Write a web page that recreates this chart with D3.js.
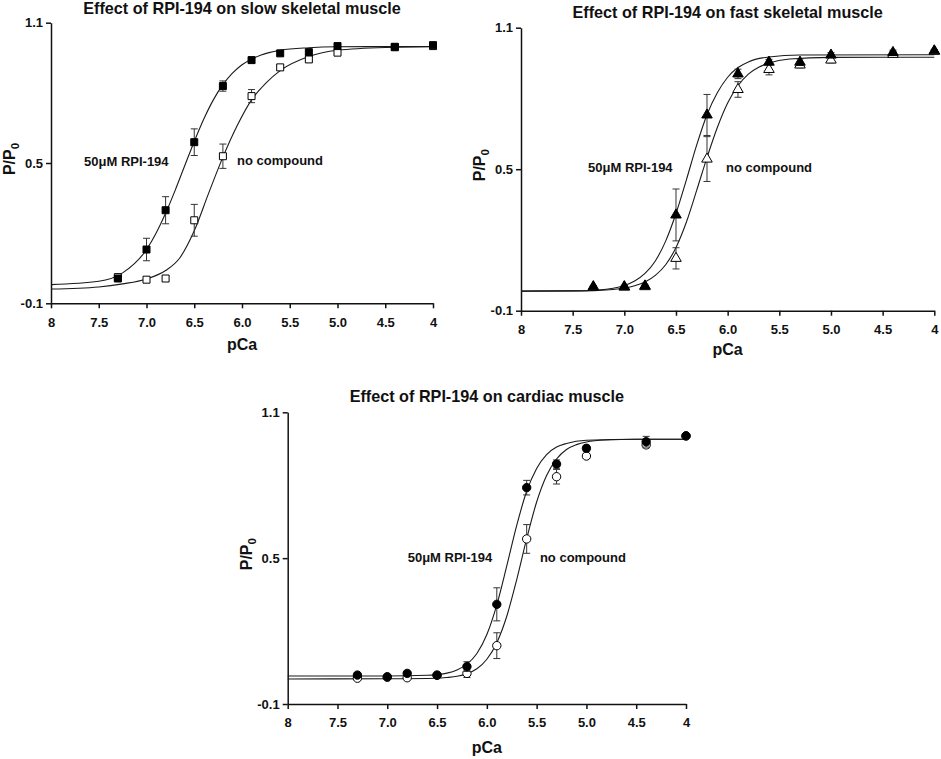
<!DOCTYPE html>
<html>
<head>
<meta charset="utf-8">
<script src="https://cdn.jsdelivr.net/npm/d3@7"></script>
<style>
  body { margin: 0; background: #fff; }
  svg { display: block; font-family: "Liberation Sans", Arial, sans-serif; }
  .axis path, .axis line { stroke: #111; stroke-width: 1.5; }
  .axis text { font-size: 13px; font-weight: bold; fill: #111; }
  .title { font-size: 16.2px; font-weight: bold; fill: #111; }
  .axis-label { font-size: 16px; font-weight: bold; fill: #111; }
  .note { font-size: 13px; font-weight: bold; fill: #111; }
</style>
</head>
<body>
<div id="chart"></div>
<script>
// ---- shared axis values ----
const xTickValues = [8, 7.5, 7.0, 6.5, 6.0, 5.5, 5.0, 4.5, 4];
const xTickLabels = ['8', '7.5', '7.0', '6.5', '6.0', '5.5', '5.0', '4.5', '4'];
const yTickValues = [-0.1, 0.5, 1.1];
const yTickLabels = ['-0.1', '0.5', '1.1'];

// pCa where the measurements were taken (same for every panel)
const pCaPoints = [7.3, 7.0, 6.8, 6.5, 6.2, 5.9, 5.6, 5.3, 5.0, 4.4, 4.0];

// ---- slow skeletal muscle ----
const slowRpiMean = [0.006, 0.130, 0.298, 0.589, 0.829, 0.940, 0.969, 0.974, 1.000, 0.997, 1.004];
const slowRpiErr  = [0.010, 0.048, 0.058, 0.057, 0.022, 0.012, 0.008, 0.010, 0.010, 0.008, 0.006];
const slowNoneMean = [0.012, 0.001, 0.006, 0.255, 0.529, 0.786, 0.909, 0.943, 0.972, 0.995, 1.000];
const slowNoneErr  = [0.008, 0.006, 0.010, 0.068, 0.052, 0.028, 0.010, 0.012, 0.010, 0.008, 0.006];
const slowRpiFitX = [8, 7.5, 7.25, 7.0, 6.9, 6.8, 6.7, 6.6, 6.5, 6.4, 6.3, 6.2, 6.1, 6.0, 5.8, 5.6, 5.3, 5.0, 4.5, 4.0];
const slowRpiFitY = [-0.02, -0.006, 0.03, 0.13, 0.2, 0.285, 0.383, 0.488, 0.592, 0.688, 0.77, 0.835, 0.884, 0.92, 0.962, 0.982, 0.993, 0.997, 0.998, 0.998];
const slowNoneFitX = [8, 7.5, 7.25, 7.0, 6.8, 6.65, 6.5, 6.35, 6.2, 6.05, 5.9, 5.75, 5.6, 5.3, 5.0, 4.5, 4.0];
const slowNoneFitY = [-0.039, -0.03, -0.017, 0.004, 0.04, 0.095, 0.21, 0.37, 0.525, 0.66, 0.77, 0.842, 0.895, 0.955, 0.982, 0.994, 0.997];

// ---- fast skeletal muscle ----
const fastRpiMean = [0.002, 0.002, 0.005, 0.306, 0.730, 0.904, 0.954, 0.954, 0.984, 0.995, 1.002];
const fastRpiErr  = [0.005, 0.004, 0.004, 0.110, 0.087, 0.020, 0.012, 0.014, 0.010, 0.010, 0.006];
const fastNoneMean = [-0.001, 0.000, 0.002, 0.122, 0.543, 0.838, 0.923, 0.942, 0.963, 0.987, 1.000];
const fastNoneErr  = [0.004, 0.004, 0.004, 0.045, 0.095, 0.033, 0.023, 0.012, 0.012, 0.010, 0.006];
const fastRpiFitX = [8, 7.5, 7.25, 7.0, 6.9, 6.8, 6.7, 6.6, 6.5, 6.4, 6.3, 6.2, 6.1, 6.0, 5.9, 5.8, 5.6, 5.3, 4.0];
const fastRpiFitY = [-0.017, -0.016, -0.012, 0.007, 0.026, 0.058, 0.111, 0.195, 0.312, 0.454, 0.602, 0.731, 0.824, 0.89, 0.931, 0.955, 0.976, 0.984, 0.985];
const fastNoneFitX = [8, 7.5, 7.25, 7.0, 6.9, 6.8, 6.7, 6.6, 6.5, 6.4, 6.3, 6.2, 6.1, 6.0, 5.9, 5.8, 5.7, 5.6, 5.4, 5.0, 4.0];
const fastNoneFitY = [-0.017, -0.016, -0.014, -0.004, 0.006, 0.022, 0.05, 0.095, 0.168, 0.275, 0.41, 0.549, 0.677, 0.781, 0.854, 0.903, 0.932, 0.95, 0.967, 0.974, 0.975];

// ---- cardiac muscle ----
const cardRpiMean = [0.019, 0.012, 0.026, 0.019, 0.054, 0.310, 0.790, 0.887, 0.952, 0.979, 1.003];
const cardRpiErr  = [0.006, 0.005, 0.008, 0.006, 0.020, 0.068, 0.030, 0.017, 0.012, 0.022, 0.005];
const cardNoneMean = [0.006, 0.010, 0.008, 0.018, 0.026, 0.140, 0.579, 0.835, 0.920, 0.966, 1.003];
const cardNoneErr  = [0.005, 0.005, 0.005, 0.005, 0.017, 0.053, 0.059, 0.030, 0.010, 0.012, 0.005];
const cardRpiFitX = [8, 7.0, 6.6, 6.5, 6.4, 6.3, 6.2, 6.1, 6.0, 5.9, 5.8, 5.7, 5.6, 5.5, 5.4, 5.3, 5.2, 5.0, 4.5, 4.0];
const cardRpiFitY = [0.015, 0.015, 0.018, 0.021, 0.027, 0.040, 0.064, 0.108, 0.186, 0.308, 0.468, 0.635, 0.775, 0.869, 0.926, 0.957, 0.972, 0.985, 0.989, 0.989];
const cardNoneFitX = [8, 7.0, 6.5, 6.4, 6.3, 6.2, 6.1, 6.0, 5.9, 5.8, 5.7, 5.6, 5.5, 5.4, 5.3, 5.2, 5.1, 5.0, 4.8, 4.5, 4.0];
const cardNoneFitY = [0.003, 0.004, 0.006, 0.009, 0.014, 0.025, 0.045, 0.084, 0.152, 0.261, 0.412, 0.58, 0.731, 0.84, 0.908, 0.947, 0.967, 0.978, 0.986, 0.989, 0.989];

// panel layout (pixel boxes of the plot areas + where the two notes sit, in data units)
const panels = [
  {
    title: 'Effect of RPI-194 on slow skeletal muscle',
    left: 51, right: 433, top: 22.7, bottom: 303.3, titleY: 13.5,
    xLabelY: 350,
    symbol: d3.symbolSquare, symSize: 49,
    rpi: [slowRpiMean, slowRpiErr, slowRpiFitX, slowRpiFitY],
    none: [slowNoneMean, slowNoneErr, slowNoneFitX, slowNoneFitY],
    noteRpi: [7.654, 0.488], noteNone: [6.052, 0.49]
  },
  {
    title: 'Effect of RPI-194 on fast skeletal muscle',
    left: 521, right: 934.3, top: 27.7, bottom: 310.7, titleY: 17.5,
    xLabelY: 355,
    symbol: d3.symbolTriangle, symSize: 48,
    rpi: [fastRpiMean, fastRpiErr, fastRpiFitX, fastRpiFitY],
    none: [fastNoneMean, fastNoneErr, fastNoneFitX, fastNoneFitY],
    noteRpi: [7.351, 0.488], noteNone: [6.015, 0.488]
  },
  {
    title: 'Effect of RPI-194 on cardiac muscle',
    left: 287.7, right: 686, top: 412.3, bottom: 704, titleY: 402,
    xLabelY: 752.5,
    symbol: d3.symbolCircle, symSize: 55,
    rpi: [cardRpiMean, cardRpiErr, cardRpiFitX, cardRpiFitY],
    none: [cardNoneMean, cardNoneErr, cardNoneFitX, cardNoneFitY],
    noteRpi: [6.795, 0.486], noteNone: [5.467, 0.486]
  }
];

const svg = d3.select('#chart').append('svg')
  .attr('width', 941)
  .attr('height', 759)
  .style('background', 'white');

function drawPanel(p) {
  const x = d3.scaleLinear().domain([8, 4]).range([p.left, p.right]);
  const y = d3.scaleLinear().domain([-0.1, 1.1]).range([p.bottom, p.top]);
  const g = svg.append('g');

  // title
  g.append('text')
    .attr('class', 'title')
    .attr('x', (p.left + p.right) / 2)
    .attr('y', p.titleY)
    .attr('text-anchor', 'middle')
    .text(p.title);

  // axes
  g.append('g')
    .attr('class', 'axis')
    .attr('transform', `translate(0,${p.bottom})`)
    .call(d3.axisBottom(x)
      .tickValues(xTickValues)
      .tickFormat((d, i) => xTickLabels[i])
      .tickSize(5).tickSizeOuter(0).tickPadding(9));

  g.append('g')
    .attr('class', 'axis')
    .attr('transform', `translate(${p.left},0)`)
    .call(d3.axisLeft(y)
      .tickValues(yTickValues)
      .tickFormat((d, i) => yTickLabels[i])
      .tickSize(5).tickSizeOuter(0).tickPadding(3));

  // axis labels
  g.append('text')
    .attr('class', 'axis-label')
    .attr('x', (p.left + p.right) / 2)
    .attr('y', p.xLabelY)
    .attr('text-anchor', 'middle')
    .text('pCa');

  const yl = g.append('text')
    .attr('class', 'axis-label')
    .attr('transform', `translate(${p.left - 36},${(p.top + p.bottom) / 2 - 4}) rotate(-90)`)
    .attr('text-anchor', 'middle');
  yl.append('tspan').text('P/P');
  yl.append('tspan').attr('font-size', '11.5px').attr('dy', 4).text('0');

  // fitted curves
  const line = d3.line()
    .x(d => x(d[0]))
    .y(d => y(d[1]))
    .curve(d3.curveMonotoneX);

  [p.rpi, p.none].forEach(s => {
    g.append('path')
      .datum(d3.zip(s[2], s[3]))
      .attr('d', line)
      .attr('fill', 'none')
      .attr('stroke', '#1a1a1a')
      .attr('stroke-width', 1.1);
  });

  // points with error bars: open first, filled on top
  const series = [
    { s: p.none, fill: '#fff' },
    { s: p.rpi, fill: '#000' }
  ];
  const cap = 3.5;
  series.forEach(({ s, fill }) => {
    const pts = pCaPoints.map((pc, i) => ({ pc, m: s[0][i], e: s[1][i] }));
    const eb = g.append('g').attr('stroke', '#333').attr('stroke-width', 1);
    pts.forEach(d => {
      const cx = x(d.pc);
      const y1 = y(d.m + d.e), y2 = y(d.m - d.e);
      eb.append('line').attr('x1', cx).attr('x2', cx).attr('y1', y1).attr('y2', y2);
      eb.append('line').attr('x1', cx - cap).attr('x2', cx + cap).attr('y1', y1).attr('y2', y1);
      eb.append('line').attr('x1', cx - cap).attr('x2', cx + cap).attr('y1', y2).attr('y2', y2);
    });
    g.append('g').selectAll('path')
      .data(pts)
      .join('path')
      .attr('transform', d => `translate(${x(d.pc)},${y(d.m)})`)
      .attr('d', d3.symbol().type(p.symbol).size(p.symSize))
      .attr('fill', fill)
      .attr('stroke', '#000')
      .attr('stroke-width', 1);
  });

  // notes
  g.append('text').attr('class', 'note')
    .attr('x', x(p.noteRpi[0])).attr('y', y(p.noteRpi[1]))
    .text('50\u03BCM RPI-194');
  g.append('text').attr('class', 'note')
    .attr('x', x(p.noteNone[0])).attr('y', y(p.noteNone[1]))
    .text('no compound');
}

panels.forEach(drawPanel);
</script>
</body>
</html>
